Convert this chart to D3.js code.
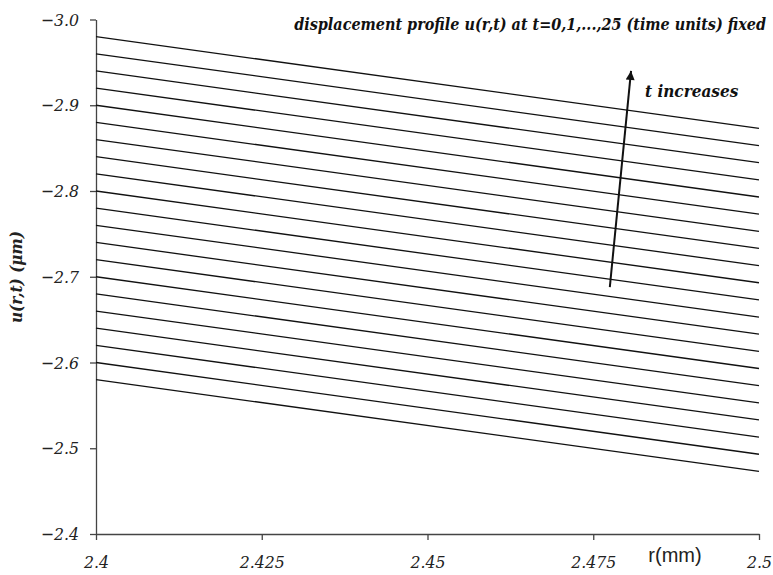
<!DOCTYPE html>
<html>
<head>
<meta charset="utf-8">
<script src="https://cdn.jsdelivr.net/npm/d3@7"></script>
<style>
  body { margin: 0; background: #fff; }
  svg { display: block; }
  .serif { font-family: "DejaVu Serif Condensed", "DejaVu Serif", serif; font-stretch: condensed; }
</style>
</head>
<body>
<svg id="chart"></svg>
<script>
// Data
const rValues = [2.4, 2.5];
// u at r = 2.4 (left end), one value per profile, t increasing upward
const uLeft = [-2.58, -2.60, -2.62, -2.64, -2.66, -2.68, -2.70, -2.72, -2.74, -2.76, -2.78,
               -2.80, -2.82, -2.84, -2.86, -2.88, -2.90, -2.92, -2.94, -2.96, -2.98];
// u at r = 2.5 (right end)
const uRight = [-2.473, -2.493, -2.513, -2.533, -2.553, -2.573, -2.593, -2.613, -2.633, -2.653, -2.673,
                -2.693, -2.713, -2.733, -2.753, -2.773, -2.793, -2.813, -2.833, -2.853, -2.873];
const xTicks = [2.4, 2.425, 2.45, 2.475, 2.5];
const yTicks = [-3.0, -2.9, -2.8, -2.7, -2.6, -2.5, -2.4];
const arrowFrom = [2.4775, -2.688];
const arrowTo = [2.4807, -2.940];

const width = 773, height = 575;
const margin = {top: 19.5, bottom: 41, left: 96, right: 14};

const svg = d3.select("#chart")
    .attr("width", width)
    .attr("height", height);

const x = d3.scaleLinear()
    .domain([2.4, 2.5])
    .range([margin.left, width - margin.right]);

// inverted: -3.0 at the top
const y = d3.scaleLinear()
    .domain([-3.0, -2.4])
    .range([margin.top, height - margin.bottom]);

const axisColor = "#444";

// x axis
const xAxis = svg.append("g")
    .attr("transform", `translate(0,${y(-2.4)})`)
    .call(d3.axisBottom(x).tickValues(xTicks).tickSize(6).tickSizeOuter(0)
        .tickFormat(d => String(+d.toFixed(3))));
xAxis.attr("font-family", null).attr("font-size", null);
xAxis.select(".domain").attr("stroke", axisColor).attr("stroke-width", 1.3);
xAxis.selectAll(".tick line").attr("stroke", axisColor).attr("stroke-width", 1.3);
xAxis.selectAll(".tick text")
    .attr("class", "serif")
    .attr("y", 22)
    .style("font-style", "italic")
    .style("font-size", "17.5px")
    .attr("fill", "#222");

// y axis
const yAxis = svg.append("g")
    .attr("transform", `translate(${x(2.4)},0)`)
    .call(d3.axisLeft(y).tickValues(yTicks).tickSize(6).tickSizeOuter(0)
        .tickFormat(d => "\u2212" + Math.abs(d).toFixed(1)));
yAxis.attr("font-family", null).attr("font-size", null);
yAxis.select(".domain").attr("stroke", axisColor).attr("stroke-width", 1.3);
yAxis.selectAll(".tick line").attr("stroke", axisColor).attr("stroke-width", 1.3);
yAxis.selectAll(".tick text")
    .attr("class", "serif")
    .attr("x", -17)
    .style("font-style", "italic")
    .style("font-size", "17.5px")
    .attr("fill", "#222");

// profiles
const line = d3.line()
    .x(d => x(d[0]))
    .y(d => y(d[1]));

const profiles = uLeft.map((u, i) => [[rValues[0], u], [rValues[1], uRight[i]]]);

svg.append("g")
    .selectAll("path")
    .data(profiles)
    .enter().append("path")
    .attr("d", line)
    .attr("fill", "none")
    .attr("stroke", "#111")
    .attr("stroke-width", 1.3);

// arrow "t increases"
svg.append("defs").append("marker")
    .attr("id", "head")
    .attr("viewBox", "0 0 10 10")
    .attr("refX", 10)
    .attr("refY", 5)
    .attr("markerUnits", "userSpaceOnUse")
    .attr("markerWidth", 16)
    .attr("markerHeight", 9)
    .attr("orient", "auto")
    .append("path")
    .attr("d", "M0,0 L10,5 L0,10 Z")
    .attr("fill", "#111");

svg.append("line")
    .attr("x1", x(arrowFrom[0]))
    .attr("y1", y(arrowFrom[1]))
    .attr("x2", x(arrowTo[0]))
    .attr("y2", y(arrowTo[1]))
    .attr("stroke", "#111")
    .attr("stroke-width", 2)
    .attr("marker-end", "url(#head)");

svg.append("text")
    .attr("class", "serif")
    .attr("x", 645)
    .attr("y", 97)
    .style("font-style", "italic")
    .style("font-weight", "bold")
    .style("font-size", "17px")
    .attr("fill", "#111")
    .text("t increases");

// title
svg.append("text")
    .attr("class", "serif")
    .attr("x", 766)
    .attr("y", 30)
    .attr("text-anchor", "end")
    .style("font-style", "italic")
    .style("font-weight", "bold")
    .style("font-size", "16px")
    .attr("fill", "#111")
    .text("displacement profile u(r,t) at t=0,1,...,25 (time units) fixed");

// x label
svg.append("text")
    .attr("x", 675)
    .attr("y", 562)
    .attr("text-anchor", "middle")
    .style("font-family", "'Liberation Sans', Arial, sans-serif")
    .style("font-size", "20px")
    .attr("fill", "#222")
    .text("r(mm)");

// y label
svg.append("text")
    .attr("class", "serif")
    .attr("text-anchor", "middle")
    .attr("transform", "translate(22,277) rotate(-90)")
    .style("font-style", "italic")
    .style("font-weight", "bold")
    .style("font-size", "17px")
    .attr("fill", "#222")
    .text("u(r,t) (\u03bcm)");
</script>
</body>
</html>
